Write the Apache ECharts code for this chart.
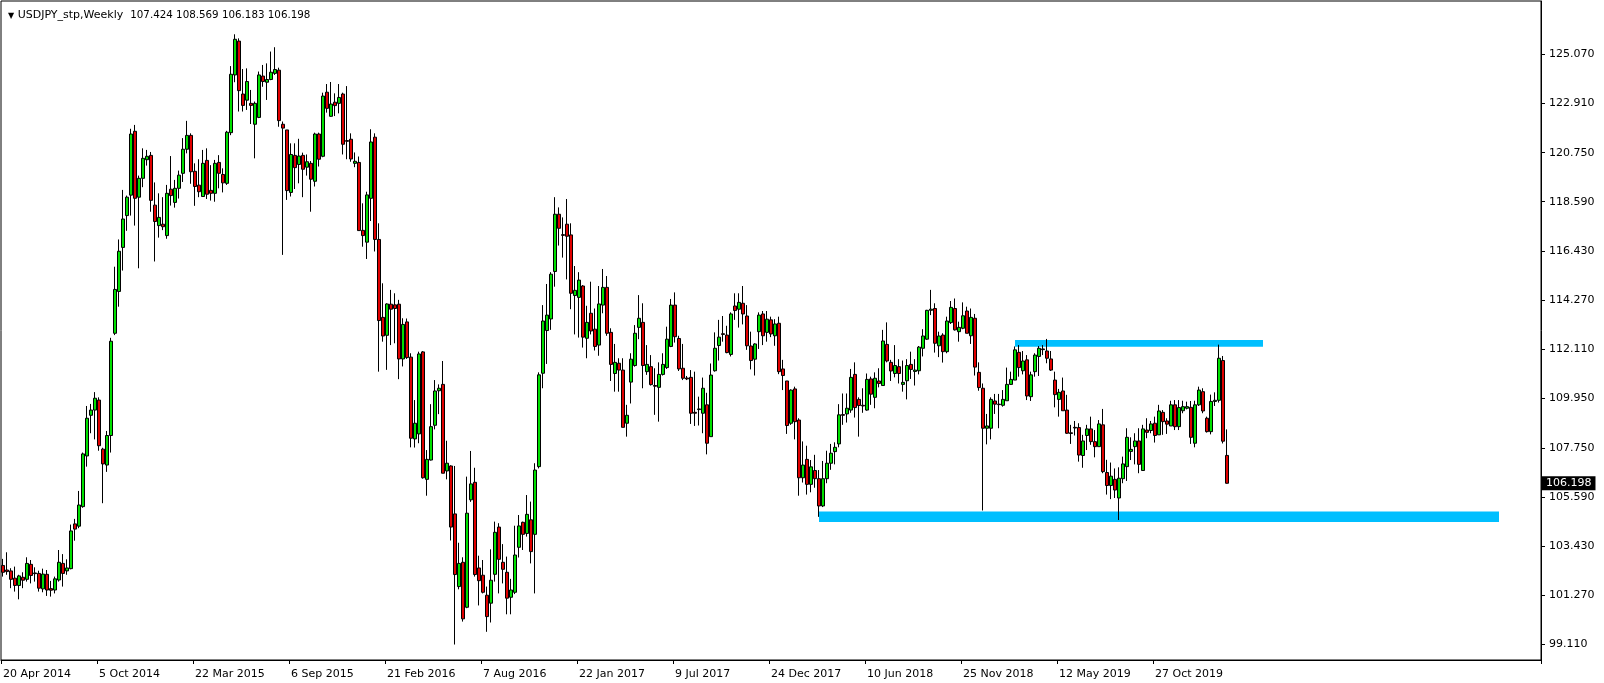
<!DOCTYPE html>
<html><head><meta charset="utf-8">
<script src="https://cdn.jsdelivr.net/npm/echarts@6/dist/echarts.min.js"></script>
<style>html,body{margin:0;padding:0;background:#fff}#c{width:1604px;height:683px}</style>
</head><body><div id="c"></div>
<script>
// ---- data (weekly USDJPY) ----
const startDate = '2014-04-20';
const opens = [102.58,102.38,102.34,102.02,101.70,102.06,101.97,102.63,102.25,102.23,101.55,102.19,101.56,101.50,101.94,102.67,102.34,102.44,104.41,104.31,105.17,107.40,109.19,109.42,109.86,107.70,107.00,108.30,112.80,114.64,
116.58,117.98,118.88,121.69,118.79,119.62,120.44,120.63,118.44,117.54,117.60,117.10,119.14,118.56,119.18,119.84,120.90,121.51,119.93,119.32,118.82,120.41,119.09,118.96,120.32,119.79,119.40,121.63,124.17,125.66,
123.33,123.06,122.92,122.00,122.30,124.12,123.85,123.97,124.24,124.38,122.00,121.75,119.00,120.63,120.23,120.63,120.11,120.28,119.49,121.57,120.59,123.41,122.35,122.97,122.92,123.33,121.28,121.34,120.28,120.32,
117.33,116.81,118.74,121.43,116.93,113.50,112.71,114.08,114.05,114.08,111.67,113.30,111.75,108.15,108.37,111.98,106.37,107.22,108.75,110.27,110.55,106.74,106.96,104.85,101.65,102.72,100.74,105.47,106.24,102.47,
102.15,101.27,100.92,102.19,104.27,102.72,102.28,101.18,101.40,103.38,104.48,103.99,104.59,103.95,106.93,111.04,112.92,113.43,115.52,118.04,117.14,117.60,117.13,114.46,114.38,114.88,112.58,113.68,112.98,112.28,
114.04,114.82,112.84,111.03,111.48,111.18,108.84,110.65,111.38,113.06,113.28,111.11,111.33,110.50,110.42,110.99,111.29,112.22,114.04,112.57,111.26,110.83,110.86,109.32,109.44,109.28,109.65,108.25,111.15,112.26,
112.78,112.72,111.87,114.00,113.86,114.12,113.56,112.24,111.66,112.87,113.65,112.84,113.39,112.69,113.24,111.23,110.70,108.84,110.35,108.98,106.44,107.25,106.15,106.76,106.40,105.20,106.40,107.08,107.59,107.93,
109.22,109.25,109.42,110.99,109.89,109.63,109.42,110.79,109.98,110.70,110.50,112.31,111.52,111.03,111.33,110.55,110.71,111.43,111.12,111.15,112.14,112.54,113.81,113.89,112.25,112.72,111.99,113.27,113.89,112.87,
113.02,113.78,112.69,113.46,111.08,110.38,108.62,108.62,109.82,109.68,109.63,109.83,110.55,110.74,111.96,111.15,111.63,110.01,111.11,111.78,112.11,112.02,111.67,110.74,109.89,110.26,109.42,108.42,108.66,108.65,
107.42,108.30,108.59,108.03,107.81,108.77,106.67,106.10,106.37,105.55,106.40,106.93,107.60,107.81,108.06,106.76,108.54,108.52,108.84,108.33,109.32,108.94,108.72,109.65,108.69,109.39,109.50,109.54,107.96,109.65,
110.23,109.06,108.47,109.80,109.85,111.60,107.424];
const highs = [102.87,103.16,102.46,102.53,102.17,102.28,102.94,102.82,102.50,102.35,102.44,102.38,101.90,102.09,103.26,103.08,102.85,104.38,104.63,105.86,107.55,109.60,109.69,110.21,109.98,107.76,108.50,112.60,115.73,116.93,
119.11,118.86,121.80,121.97,119.74,120.94,120.87,120.78,119.44,118.96,118.79,119.33,120.60,119.55,119.96,121.39,122.15,121.60,120.28,120.46,120.87,120.94,120.20,120.43,120.64,120.06,121.71,124.56,125.96,125.78,
124.43,124.46,123.51,123.00,124.32,124.61,124.68,125.20,125.39,124.49,122.12,121.75,121.16,121.16,121.36,120.75,120.67,120.38,121.63,121.63,123.39,123.77,123.86,123.36,123.77,123.39,123.68,121.60,120.76,120.58,
118.52,119.03,121.78,121.60,117.64,115.00,114.12,114.71,114.56,114.27,113.46,113.45,111.92,109.86,111.99,112.02,107.66,109.68,110.74,110.55,111.58,108.07,106.99,106.96,103.58,102.94,106.49,107.62,106.88,103.01,
102.82,101.65,103.29,104.51,104.44,103.52,102.97,101.99,104.33,104.80,104.51,105.68,105.39,107.08,111.08,114.04,114.97,115.49,118.79,118.34,117.90,118.71,117.64,115.76,115.49,114.92,114.01,115.07,113.89,114.88,
115.63,115.32,113.02,112.33,111.70,111.70,109.65,111.92,113.16,114.48,114.12,112.28,111.84,111.26,111.52,111.92,113.09,114.31,114.60,112.69,112.33,110.92,111.18,111.11,110.01,110.85,110.18,111.47,112.84,113.39,
113.56,113.13,113.72,114.56,114.56,114.88,114.04,112.87,112.36,113.72,113.78,113.78,113.53,113.42,113.53,111.63,110.70,110.33,110.45,109.06,108.04,107.85,107.22,107.45,106.78,107.18,107.63,107.93,108.00,109.68,
110.15,110.15,111.23,111.52,109.98,110.38,111.03,110.89,111.08,111.26,112.95,113.28,111.63,112.28,111.66,111.60,111.66,111.99,111.66,112.24,112.98,113.83,114.71,114.12,112.87,112.80,113.53,114.22,114.33,113.31,
114.16,113.97,113.89,113.65,111.52,110.59,109.25,109.98,110.13,110.13,110.30,111.29,111.11,112.22,112.28,112.02,111.84,111.11,111.92,112.24,112.28,112.55,112.02,111.11,110.35,110.85,110.09,108.77,108.94,108.84,
108.33,108.77,109.13,108.54,108.98,109.47,107.23,107.11,106.85,106.90,107.37,108.62,108.22,108.40,108.62,108.77,109.06,108.94,109.13,109.65,109.42,109.06,109.83,109.86,109.86,109.83,109.79,109.82,109.83,110.45,
110.38,109.13,110.10,110.20,112.30,111.80,108.569];
const lows = [102.09,102.17,101.58,101.43,101.09,101.58,101.87,101.79,101.87,101.43,101.40,101.24,101.21,101.35,101.87,101.65,102.17,102.41,103.67,104.22,105.12,106.93,108.40,108.13,107.63,105.32,106.70,107.55,112.72,113.97,
115.56,117.31,117.98,117.54,115.66,119.23,120.18,118.15,115.96,117.01,117.34,116.96,118.42,118.33,118.73,119.46,120.72,119.38,118.41,118.79,118.82,118.71,118.64,118.59,119.18,119.00,119.33,121.52,123.85,122.56,
122.56,122.63,122.01,120.50,122.27,123.65,123.07,123.94,124.17,121.89,116.25,118.67,118.82,119.15,119.40,118.79,119.74,118.15,119.26,120.14,120.55,122.51,122.33,122.36,122.48,120.67,120.46,120.35,120.11,117.32,
116.61,116.07,117.74,116.40,111.11,112.43,111.19,112.28,112.36,110.78,111.34,111.67,107.78,107.77,107.96,106.40,105.65,107.20,108.57,109.24,106.64,106.37,103.68,99.10,101.53,100.11,100.70,105.38,102.09,100.82,
101.35,99.66,100.07,101.87,101.35,101.79,100.43,100.43,101.32,102.93,103.26,103.85,102.67,101.35,106.85,110.38,111.45,112.95,114.85,116.66,116.13,115.17,113.86,112.75,112.61,112.17,111.70,112.75,112.04,111.81,
113.68,112.69,110.70,110.23,110.23,108.66,108.25,109.71,111.33,112.54,110.38,110.97,110.50,109.21,108.91,110.94,111.23,112.19,112.39,111.14,110.74,110.74,108.81,108.72,108.74,108.40,107.47,108.25,111.11,111.60,
112.43,111.92,111.78,113.39,113.05,113.19,112.07,111.21,110.94,112.11,112.28,112.43,112.63,112.25,111.00,110.30,108.37,108.77,108.13,105.65,106.23,105.70,105.80,106.00,104.72,105.15,106.20,106.79,107.03,107.78,
108.77,108.87,109.30,109.09,108.25,109.30,109.39,109.65,109.50,110.42,110.50,111.52,110.70,110.86,110.59,110.23,109.89,110.79,110.50,110.99,111.78,112.51,113.60,111.95,111.75,111.51,111.92,113.21,112.92,112.43,
112.98,112.80,112.33,110.94,110.27,105.00,107.91,108.13,109.25,108.62,109.57,109.83,110.53,110.74,110.89,110.99,109.86,109.82,110.89,110.92,111.84,111.48,111.14,109.54,109.13,109.39,108.37,107.93,108.30,107.15,
106.88,107.66,107.89,107.34,107.81,106.64,105.70,105.50,105.55,104.58,106.20,106.30,107.22,107.03,106.64,106.76,108.18,108.40,107.99,108.33,108.33,108.37,108.72,108.54,108.54,109.28,109.45,107.93,107.78,109.60,
109.28,108.43,108.35,109.60,109.75,107.95,106.183];
const closes = [102.28,102.31,101.97,101.70,102.12,101.93,102.67,102.14,102.22,101.58,102.20,101.50,101.49,101.99,102.72,102.23,102.47,104.10,104.18,105.24,107.49,109.06,109.42,109.94,107.85,107.05,108.30,112.45,114.73,116.41,
117.83,118.79,121.57,118.74,119.62,120.50,120.59,118.65,117.72,117.90,117.49,118.96,118.86,119.18,119.76,120.90,121.51,119.91,119.26,119.03,120.28,118.92,118.96,120.28,119.84,119.42,121.65,124.20,125.74,123.48,
122.83,123.88,122.83,122.92,124.17,123.88,123.97,124.29,124.41,122.16,121.83,119.08,120.67,120.09,120.60,120.02,120.35,119.58,121.57,120.46,123.24,122.70,122.89,122.82,123.18,121.12,121.25,120.47,120.37,117.32,
117.10,118.89,121.22,116.93,113.36,112.68,114.09,113.86,113.89,111.67,113.19,111.73,108.18,108.84,111.89,106.44,107.25,108.69,110.26,110.38,106.64,107.08,104.27,102.18,102.67,100.23,104.88,106.17,102.18,101.91,
101.40,100.33,101.93,104.04,102.85,102.41,101.14,101.50,103.04,104.32,103.95,104.83,103.19,106.78,110.97,113.34,113.60,115.40,118.04,117.42,117.11,117.07,114.56,114.69,115.14,112.63,113.28,112.90,112.22,114.09,
114.82,112.80,111.43,111.52,111.18,108.66,109.19,111.66,112.80,113.46,111.38,111.43,110.54,110.47,110.99,111.43,112.54,114.04,112.65,111.23,110.82,110.79,109.28,109.28,109.47,110.38,107.96,110.96,112.14,112.63,
112.75,111.95,113.65,113.80,114.16,113.65,112.25,111.60,112.33,113.60,112.69,113.42,112.77,113.21,111.11,110.94,108.74,110.30,108.91,106.44,107.00,106.15,106.92,106.40,105.20,106.40,107.08,107.52,107.78,109.21,
109.19,109.50,110.86,109.53,109.62,109.60,110.77,110.12,110.82,110.59,112.46,111.58,111.14,111.38,111.03,110.64,111.38,111.21,111.18,112.19,112.68,113.81,113.86,112.36,112.68,111.99,113.34,113.94,112.95,113.06,
113.57,112.80,113.50,111.31,110.41,108.62,108.72,109.89,109.68,109.66,109.89,110.55,110.77,112.07,111.29,111.58,110.04,110.97,111.84,112.14,112.08,111.70,111.18,110.10,110.20,109.39,108.40,108.39,108.63,107.44,
108.06,108.59,108.03,107.81,108.81,106.71,106.10,106.51,105.90,106.42,107.05,108.22,107.69,108.06,107.03,108.59,108.44,108.81,108.30,109.38,108.91,108.80,109.65,108.69,109.53,109.57,109.57,108.22,109.65,110.30,
109.38,108.47,109.80,109.85,111.70,108.05,106.198];
const priceTicks = [99.11, 101.27, 103.43, 105.59, 107.75, 109.95, 112.11, 114.27, 116.43, 118.59, 120.75, 122.91, 125.07];
const zoneStarts = [253, 204];     // bar index where each drawn rectangle starts
const zoneEnds = [315, 374];       // bar index where each rectangle ends
const zoneHighs = [112.50, 104.96];
const zoneLows = [112.21, 104.49];
const lastPrice = 106.198;
const headerName = 'USDJPY_stp,Weekly';
const headerOHLC = '107.424 108.569 106.183 106.198';
const dateLabelStep = 24;
const lastDateLabel = 288;
const totalSlots = 385;
const yMin = 98.419, yMax = 127.425;

// ---- build ----
const MON = ['Jan','Feb','Mar','Apr','May','Jun','Jul','Aug','Sep','Oct','Nov','Dec'];
const t0 = Date.parse(startDate + 'T00:00:00Z');
const cats = [];
for (let i = 0; i < totalSlots; i++) {
  const d = new Date(t0 + i * 7 * 86400000);
  cats.push(d.getUTCDate() + ' ' + MON[d.getUTCMonth()] + ' ' + d.getUTCFullYear());
}
const candles = opens.map((o, i) => [o, closes[i], lows[i], highs[i]]);
const showDate = (idx) => idx % dateLabelStep === 0 && idx <= lastDateLabel;
const FONT = 'DejaVu Sans';

const chart = echarts.init(document.getElementById('c'), null, {renderer: 'canvas'});
chart.setOption({
  animation: false,
  backgroundColor: '#fff',
  textStyle: {fontFamily: FONT},
  title: {
    text: '{tri|▼} ' + headerName + '  {num|' + headerOHLC + '}', left: 3, top: 5,
    textStyle: {fontSize: 11, fontWeight: 'normal', color: '#000', fontFamily: FONT,
      rich: {tri: {fontSize: 8, color: '#000', fontFamily: FONT},
             num: {fontSize: 10.3, color: '#000', fontFamily: FONT}}}
  },
  grid: {left: 1, top: 1, width: 1540, height: 659, show: true, borderColor: '#000', borderWidth: 1, backgroundColor: '#fff'},
  xAxis: {
    type: 'category', data: cats, boundaryGap: true,
    axisLine: {show: true, lineStyle: {color: '#000', width: 1}},
    axisTick: {show: true, interval: showDate, length: 4, lineStyle: {color: '#000'}},
    axisLabel: {interval: showDate, align: 'left', color: '#000', fontSize: 11, margin: 9, fontFamily: FONT},
    splitLine: {show: false}
  },
  yAxis: {
    type: 'value', position: 'right', min: yMin, max: yMax,
    axisLine: {show: true, lineStyle: {color: '#000'}},
    axisTick: {show: true, length: 4, customValues: priceTicks, lineStyle: {color: '#000'}},
    axisLabel: {customValues: priceTicks, formatter: v => v.toFixed(3), color: '#000', fontSize: 11, margin: 8, fontFamily: FONT},
    splitLine: {show: false}
  },
  series: [{
    type: 'candlestick', data: candles, barWidth: 3, clip: false,
    itemStyle: {color: '#00E000', color0: '#E00000', borderColor: '#000', borderColor0: '#000', borderWidth: 1},
    markArea: {
      silent: true,
      itemStyle: {color: '#00BFFF', opacity: 1},
      data: zoneStarts.map((s, i) => [{xAxis: s, yAxis: zoneHighs[i]}, {xAxis: zoneEnds[i], yAxis: zoneLows[i]}])
    },
    markLine: {
      silent: true, symbol: 'none', animation: false,
      lineStyle: {color: 'rgba(0,0,0,0)', width: 1},
      label: {show: true, position: 'end', distance: 1, formatter: lastPrice.toFixed(3), backgroundColor: '#000', color: '#fff',
        padding: [2, 4, 1, 4], fontSize: 11, fontFamily: FONT},
      data: [{yAxis: lastPrice}]
    }
  }]
});
</script>
</body></html>
